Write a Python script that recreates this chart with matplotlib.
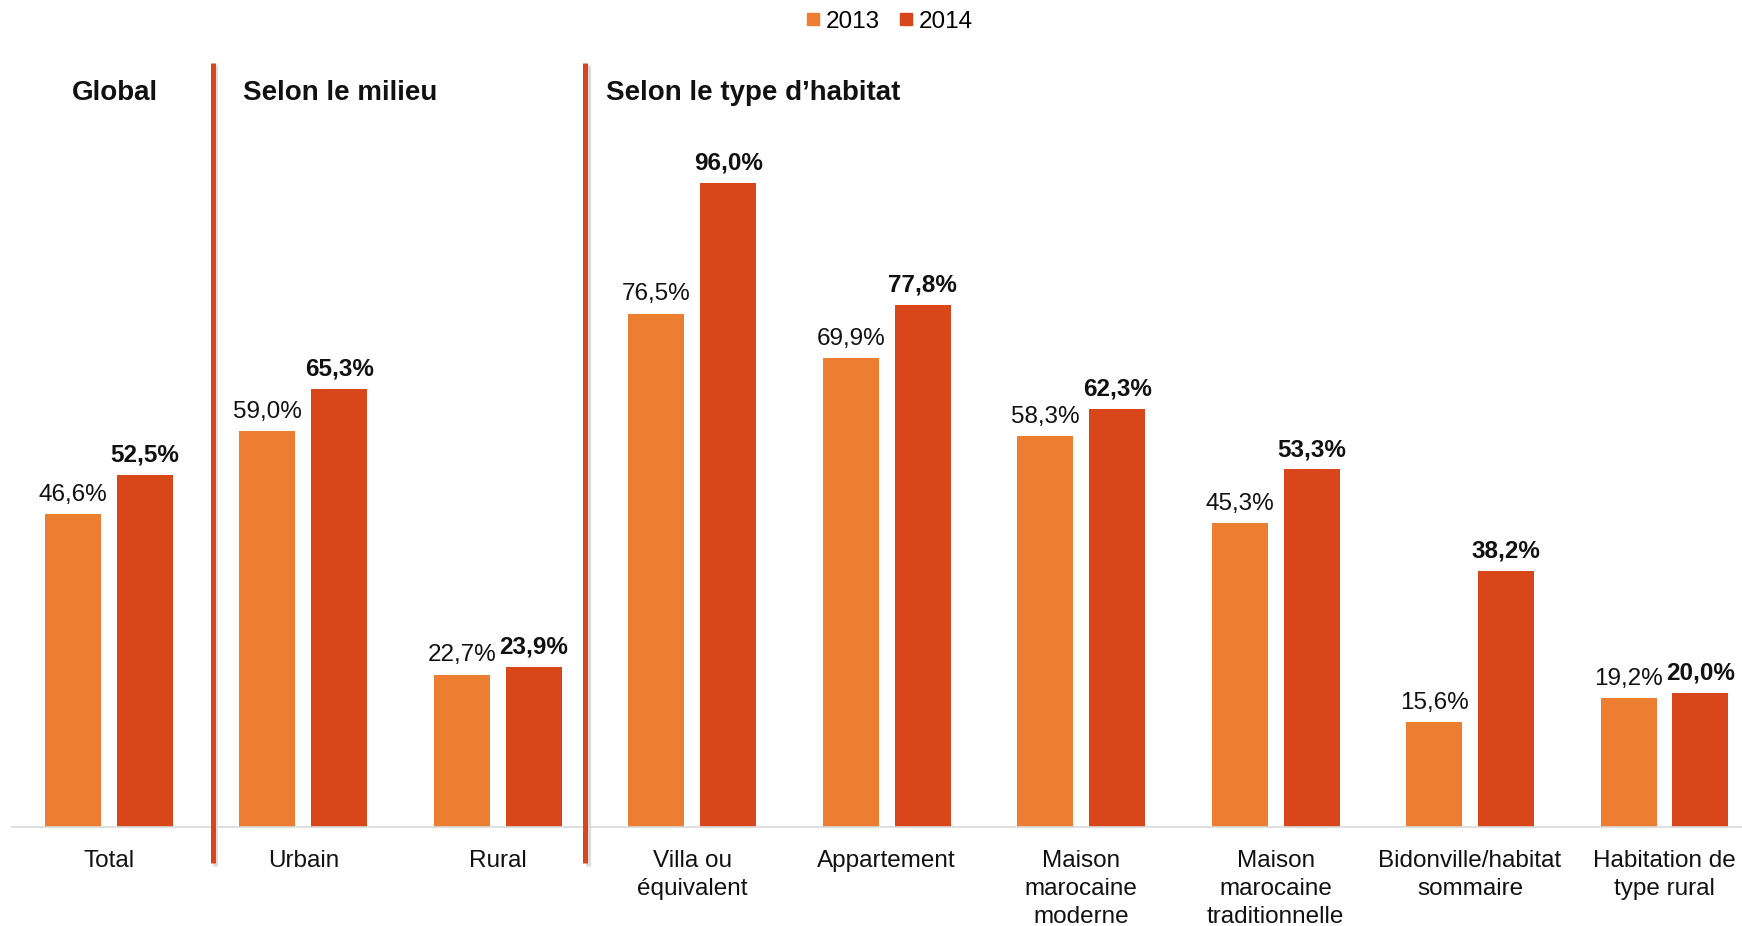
import matplotlib.pyplot as plt
import numpy as np
from matplotlib.lines import Line2D

plt.rcParams['font.family'] = ['Liberation Sans', 'DejaVu Sans']

categories = ["Total", "Urbain", "Rural", "Villa ou\néquivalent", "Appartement",
              "Maison\nmarocaine\nmoderne", "Maison\nmarocaine\ntraditionnelle",
              "Bidonville/habitat\nsommaire", "Habitation de\ntype rural"]
values_2013 = [46.6, 59.0, 22.7, 76.5, 69.9, 58.3, 45.3, 15.6, 19.2]
values_2014 = [52.5, 65.3, 23.9, 96.0, 77.8, 62.3, 53.3, 38.2, 20.0]
series_names = ["2013", "2014"]
section_titles = ["Global", "Selon le milieu", "Selon le type d\u2019habitat"]

color_2013 = "#ED7D31"
color_2014 = "#D9461A"

W, H = 1742, 926
fig = plt.figure(figsize=(W / 100, H / 100), dpi=100)
# axes slightly wider than the figure, as in the reference (cut on the right)
ax = fig.add_axes([11.7 / W, 99 / H, 1750 / W, 671 / H])

x = np.arange(len(categories))
width = 0.288
offset = 0.185

bars13 = ax.bar(x - offset, values_2013, width, color=color_2013, zorder=2)
bars14 = ax.bar(x + offset, values_2014, width, color=color_2014, zorder=2)


def fmt(v):
    return f"{v:.1f}%".replace(".", ",")


for b, v in zip(bars13, values_2013):
    ax.annotate(fmt(v), (b.get_x() + b.get_width() / 2, v), xytext=(0, 9.5),
                textcoords="offset points", ha="center", va="baseline",
                fontsize=17.5, color="#111111")
for b, v in zip(bars14, values_2014):
    ax.annotate(fmt(v), (b.get_x() + b.get_width() / 2, v), xytext=(0, 9.5),
                textcoords="offset points", ha="center", va="baseline",
                fontsize=17.5, fontweight="bold", color="#111111")

ax.set_xlim(-0.5, len(categories) - 0.5)
ax.set_ylim(0, 100)
ax.set_xticks(x)
ax.set_xticklabels(categories, fontsize=17.5, color="#111111", linespacing=1.36)
ax.tick_params(axis="x", length=0, pad=16.5)
ax.set_yticks([])
for s in ["top", "right", "left"]:
    ax.spines[s].set_visible(False)
ax.spines["bottom"].set_color("#D9D9D9")
ax.spines["bottom"].set_linewidth(1.2)

# separators between the groups
for sx in [0.535, 2.45]:
    ax.plot([sx + 0.012, sx + 0.012], [-5.8, 113.5], color="#BBBBBB", lw=3.6,
            alpha=0.5, clip_on=False, solid_capstyle="butt", zorder=1)
    ax.plot([sx, sx], [-5.4, 113.9], color=color_2014, lw=3.6,
            clip_on=False, solid_capstyle="butt", zorder=3)

# section titles
title_x = [72, 243, 606]
for tx, t in zip(title_x, section_titles):
    fig.text(tx / W, 1 - 93 / H, t, fontsize=20, fontweight="bold",
             ha="left", va="center", color="#111111")

handles = [Line2D([], [], marker="s", ls="none", markersize=8, color=c)
           for c in [color_2013, color_2014]]
fig.legend(handles, series_names, loc="center", bbox_to_anchor=(890 / W, 1 - 21.7 / H),
           ncol=2, frameon=False, fontsize=17.5, handlelength=0.5,
           handletextpad=0.3, columnspacing=0.8, borderpad=0)

fig.savefig("out.png", dpi=100)
